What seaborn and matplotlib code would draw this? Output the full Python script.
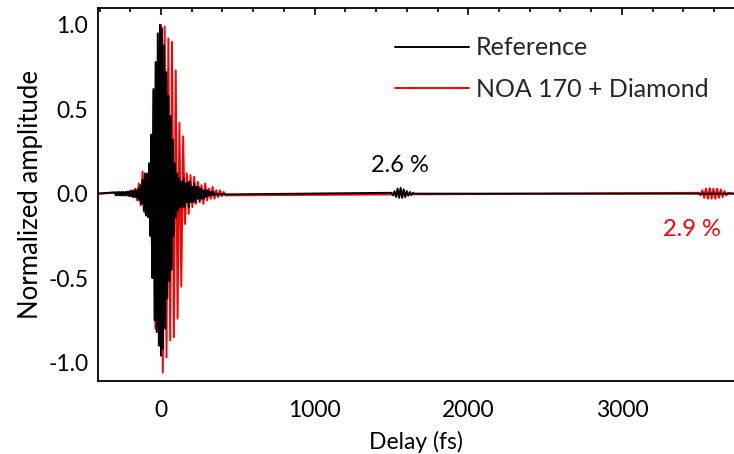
import numpy as np
import pandas as pd
import matplotlib
matplotlib.use("Agg")
import matplotlib.pyplot as plt
import seaborn as sns
from matplotlib.ticker import MultipleLocator, FuncFormatter
from matplotlib.lines import Line2D

# ---------------- data (oscillation extrema) ----------------
series_names = ["Reference", "NOA 170 + Diamond"]
series_colors = ["black", "red"]

# Reference: main pulse extrema, delay grid (fs) and amplitudes
ref_main_t = np.arange(-301, 351, 7)
ref_main_v = [0.008, -0.01, 0.01, -0.01, 0.01, -0.01, 0.01, -0.01, 0.01, -0.01,
              0.01, -0.012, 0.012, -0.012, 0.015, -0.015, 0.015, -0.02, 0.02, -0.02,
              0.02, -0.025,
              0.03, -0.04, 0.05, -0.06, 0.08, -0.10, 0.12, -0.13, 0.12, -0.14,
              0.18, -0.25, 0.35, -0.50, 0.62, -0.75, 0.78, -0.82, 0.95, -0.90,
              1.00, -0.96, 0.98, -0.92, 0.88, -0.80, 0.72, -0.62, 0.58, -0.52,
              0.46, -0.45, 0.32, -0.25, 0.18, -0.14, 0.12, -0.10, 0.09, -0.08,
              0.07, -0.08, 0.09, -0.08, 0.06, -0.05, 0.07, -0.08, 0.07, -0.05,
              0.04, -0.05, 0.06, -0.05, 0.04, -0.03, 0.04, -0.04, 0.03, -0.03,
              0.02, -0.03, 0.02, -0.02, 0.02, -0.015, 0.015, -0.01, 0.01, -0.01,
              0.01, -0.005]
# Reference: echo near 1550 fs
ref_echo_t = np.arange(1500, 1651, 10)
ref_echo_v = [0.005, -0.01, 0.015, -0.02, 0.03, -0.025, 0.035, -0.025, 0.025, -0.02,
              0.015, -0.012, 0.01, -0.008, 0.005, 0.0]

# NOA 170 + Diamond: main pulse extrema
noa_main_t = np.arange(-300, 421, 12)
noa_main_v = [0.005, -0.008, 0.008, -0.01, 0.01, -0.01, 0.01,
              0.01, -0.015, 0.02, -0.02, 0.03, -0.04, 0.06, -0.07, 0.13, -0.11,
              0.10, -0.09, 0.15, -0.30, 0.61, -0.80, 0.75, -0.90, 1.00, -1.06,
              0.99, -0.97, 0.92, -0.87, 0.90, -0.85, 0.73, -0.74, 0.42, -0.55,
              0.34, -0.18, 0.12, -0.12, 0.11, -0.08, 0.10, -0.06, 0.07, -0.05,
              0.05, -0.06, 0.06, -0.04, 0.03, -0.03, 0.04, -0.03, 0.02, -0.02,
              0.02, -0.015, 0.01, -0.01]
# NOA 170 + Diamond: echo near 3550 fs
noa_echo_t = np.arange(3500, 3693, 12)
noa_echo_v = [0.005, -0.01, 0.02, -0.025, 0.03, -0.03, 0.033, -0.03, 0.03, -0.03,
              0.03, -0.025, 0.025, -0.02, 0.015, -0.01, 0.005]

baseline_t = [-410, 3730]

x_ticks = [0, 1000, 2000, 3000]
y_ticks = [-1.0, -0.5, 0.0, 0.5, 1.0]
annot_text = ["2.6 %", "2.9 %"]


def build(main_t, main_v, echo_t, echo_v):
    t = [baseline_t[0]] + list(main_t) + list(echo_t) + [baseline_t[1]]
    v = [0.0] + list(main_v) + list(echo_v) + [0.0]
    return pd.DataFrame({"Delay": t, "Amp": v})


ref_df = build(ref_main_t, ref_main_v, ref_echo_t, ref_echo_v)
noa_df = build(noa_main_t, noa_main_v, noa_echo_t, noa_echo_v)

# ---------------- figure ----------------
sns.set_theme(style="white")
plt.rcParams["font.family"] = ["Lato", "DejaVu Sans"]

fig = plt.figure(figsize=(7.34, 4.54), dpi=100)
ax = fig.add_axes([98 / 734, 1 - 381 / 454, 1 - 98 / 734, (381 - 8) / 454])

sns.lineplot(data=noa_df, x="Delay", y="Amp", ax=ax, color=series_colors[1],
             lw=1.4, sort=False, estimator=None)
sns.lineplot(data=ref_df, x="Delay", y="Amp", ax=ax, color=series_colors[0],
             lw=1.4, sort=False, estimator=None)

ax.set_xlim(-410, 3730)
ax.set_ylim(-1.11, 1.10)
ax.set_xticks(x_ticks)
ax.set_yticks(y_ticks)
ax.xaxis.set_minor_locator(MultipleLocator(200))
ax.yaxis.set_minor_locator(MultipleLocator(0.1))
ax.yaxis.set_major_formatter(FuncFormatter(lambda v, p: f"{v:.1f}".replace("-0.0", "0.0")))
ax.tick_params(which="both", direction="in", top=True, right=False, color="black",
               width=1.2, labelsize=16.5, labelcolor="black")
ax.tick_params(which="major", length=5)
ax.tick_params(which="minor", length=3)
ax.tick_params(axis="x", which="major", pad=14)
ax.tick_params(axis="y", which="major", pad=7)

for side in ["left", "bottom", "top"]:
    ax.spines[side].set_visible(True)
    ax.spines[side].set_color("black")
    ax.spines[side].set_linewidth(1.3)
ax.spines["right"].set_visible(False)

ax.set_xlabel("Delay (fs)", fontsize=16.5, color="black", labelpad=7)
ax.set_ylabel("Normalized amplitude", fontsize=18.5, color="black", labelpad=4)

handles = [Line2D([], [], color=c, lw=1.4) for c in series_colors]
ax.legend(handles, series_names, loc="upper left", bbox_to_anchor=(0.467, 0.924),
          frameon=False, fontsize=18, handlelength=2.96, handletextpad=0.28,
          labelspacing=0.75, borderpad=0.0, borderaxespad=0.0)

ax.text(1557, 0.165, annot_text[0], color="black", fontsize=17, ha="center", va="center")
ax.text(3459, -0.21, annot_text[1], color="red", fontsize=17, ha="center", va="center")

fig.savefig("out.png", dpi=100)
